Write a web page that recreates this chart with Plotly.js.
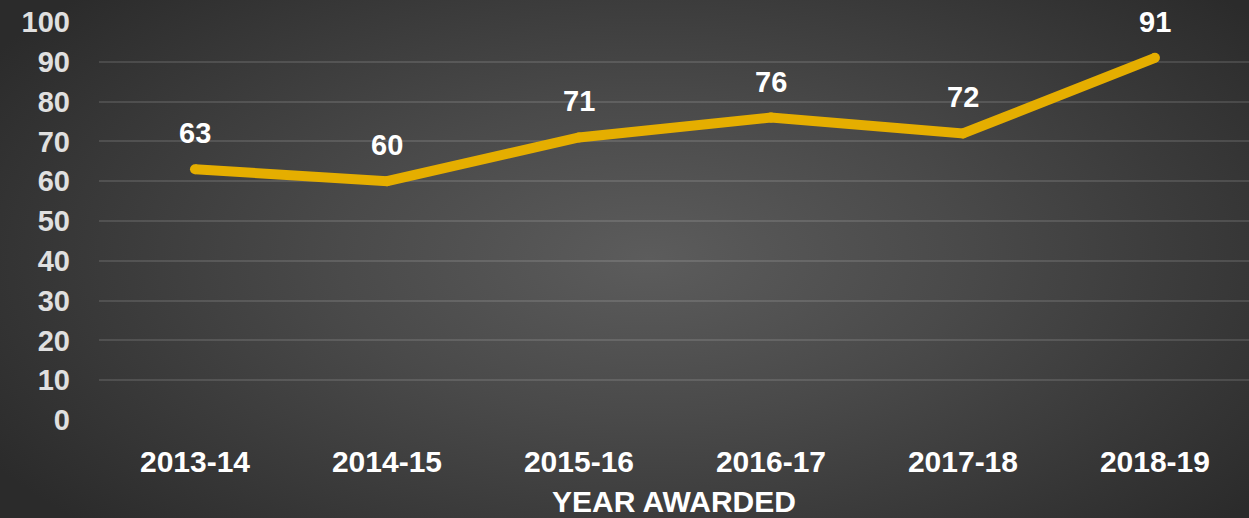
<!DOCTYPE html>
<html>
<head>
<meta charset="utf-8">
<script src="https://cdn.plot.ly/plotly-3.0.1.min.js"></script>
<style>
html,body{margin:0;padding:0;width:1249px;height:518px;overflow:hidden;
background: radial-gradient(ellipse 62% 75% at 52% 50%, #5c5c5c 0%, #4a4a4a 40%, #2b2b2b 100%);}
#chart{width:1249px;height:518px;}
</style>
</head>
<body>
<div id="chart"></div>
<script>
const years = ["2013-14","2014-15","2015-16","2016-17","2017-18","2018-19"];
const awards = [63, 60, 71, 76, 72, 91];
const yTicks = [0,10,20,30,40,50,60,70,80,90,100];

const font = "Liberation Sans, Arial, sans-serif";

const trace = {
  x: years, y: awards, type: "scatter", mode: "lines+markers",
  line: {color: "#E5AE00", width: 10, shape: "linear"},
  marker: {color: "#E5AE00", size: 10, line: {width: 0}},
  hoverinfo: "x+y"
};

const annotations = years.map((yr, i) => ({
  x: yr, y: awards[i], text: "<b>" + awards[i] + "</b>", showarrow: false,
  yshift: 36, font: {family: font, size: 29, color: "#ffffff"}
}));

const layout = {
  width: 1249, height: 518,
  margin: {l: 99, r: 0, t: 22, b: 98},
  paper_bgcolor: "rgba(0,0,0,0)", plot_bgcolor: "rgba(0,0,0,0)",
  showlegend: false,
  xaxis: {
    type: "category", range: [-0.5, 5.49], showgrid: false, zeroline: false, showline: false,
    tickfont: {family: font, size: 30, color: "#ffffff", weight: "bold"},
    ticklabelstandoff: 21,
    title: {text: "<b>YEAR AWARDED</b>", font: {family: font, size: 30, color: "#ffffff"}, standoff: 16}
  },
  yaxis: {
    range: [0, 100], tickvals: yTicks, showgrid: true, gridcolor: "rgba(255,255,255,0.12)", gridwidth: 2,
    zeroline: false, showline: false,
    tickfont: {family: font, size: 29, color: "#e0e0e0", weight: "bold"},
    ticklabelstandoff: 28
  },
  annotations: annotations
};

Plotly.newPlot("chart", [trace], layout, {displayModeBar: false, staticPlot: true});
</script>
</body>
</html>
